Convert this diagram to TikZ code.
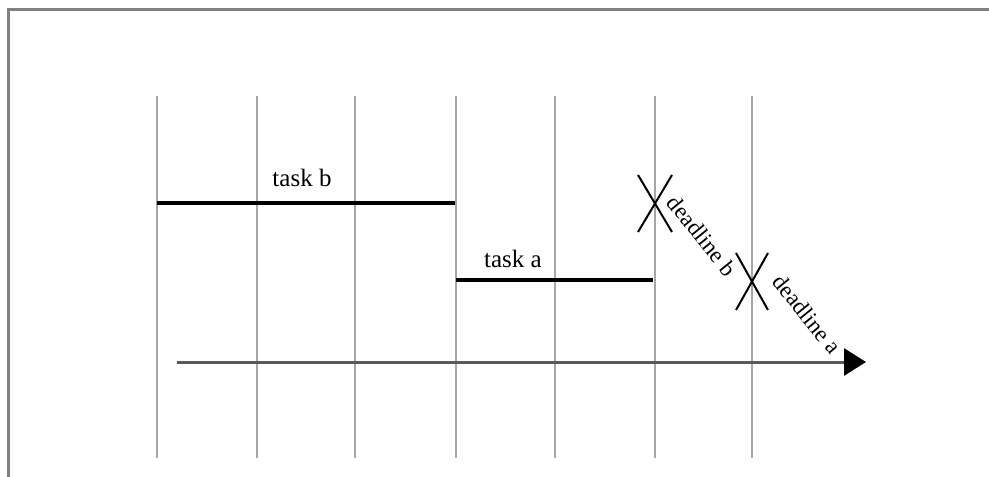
\documentclass[tikz,border=0pt]{standalone}
\usepackage{fontspec}
\setmainfont{Liberation Serif}
\usetikzlibrary{arrows.meta,calc}
\begin{document}
\begin{tikzpicture}[x=1pt,y=-1pt,
  frame/.style={draw=black!50,line width=3pt},
  grid/.style={draw=black!35,line width=1.5pt},
  bar/.style={draw=black,line width=4.5pt},
  axisline/.style={draw=black!65,line width=3pt,-{Triangle[length=22pt,width=27pt,fill=black,color=black]}},
  xmark/.style={draw=black,line width=2pt},
  lab/.style={font=\fontsize{25}{30}\selectfont,inner sep=0pt},
  dlab/.style={font=\fontsize{23}{28}\selectfont,inner sep=0pt,rotate=-51}]
\useasboundingbox (0,0) rectangle (989,477);
\fill[white] (0,0) rectangle (989,477);
% frame
\coordinate (fbl) at (8,480);
\coordinate (ftl) at (8,9.5);
\coordinate (ftr) at (992,9.5);
\draw[frame] (fbl) -- (ftl) -- (ftr);
% vertical grid lines
\foreach \n/\x in {1/157,2/257,3/355,4/456,5/555,6/655,7/752}{
  \coordinate (t\n) at (\x,96);
  \coordinate (b\n) at (\x,458);
  \draw[grid] (t\n) -- (b\n);
}
% tasks
\coordinate (tbs) at (157,203);
\coordinate (tbe) at (455,203);
\draw[bar] (tbs) -- (tbe);
\node[lab] (taskb) at (302,178) {task b};
\coordinate (tas) at (456,280);
\coordinate (tae) at (653,280);
\draw[bar] (tas) -- (tae);
\node[lab] (taska) at (513,259) {task a};
% axis
\coordinate (ax0) at (177,362);
\coordinate (ax1) at (866,362);
\draw[axisline] (ax0) -- (ax1);
% deadline marks
\coordinate (db) at (655,203);
\draw[xmark] ($(db)+(-17,-28)$) -- ($(db)+(17,29)$);
\draw[xmark] ($(db)+(17,-28)$) -- ($(db)+(-17,29)$);
\coordinate (da) at (752,282);
\draw[xmark] ($(da)+(-16,-29)$) -- ($(da)+(16,28)$);
\draw[xmark] ($(da)+(16,-29)$) -- ($(da)+(-16,28)$);
\node[dlab] (dlb) at (702,236) {deadline b};
\node[dlab] (dla) at (807,314) {deadline a};
\end{tikzpicture}
\end{document}
